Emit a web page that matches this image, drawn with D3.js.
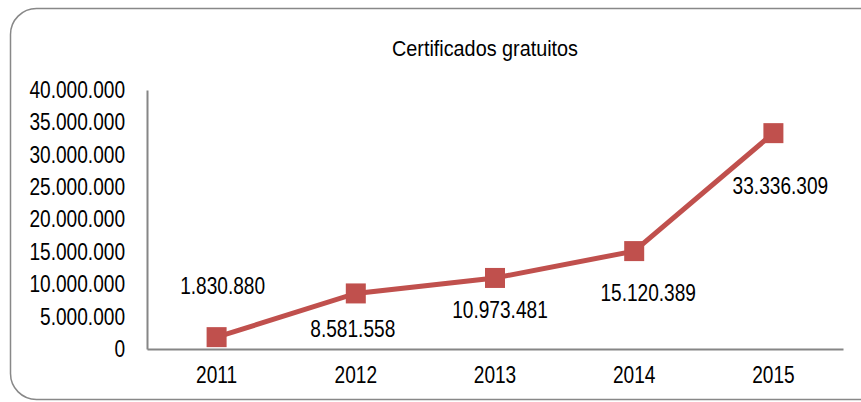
<!DOCTYPE html>
<html>
<head>
<meta charset="utf-8">
<script src="https://cdn.jsdelivr.net/npm/d3@7"></script>
<style>
  body { margin: 0; background: #fff; }
  svg { display: block; font-family: "Liberation Sans Narrow", "Arial Narrow", "Liberation Sans", sans-serif; }
</style>
</head>
<body>
<div id="chart"></div>
<script>
const years = ["2011", "2012", "2013", "2014", "2015"];
const values = [1830880, 8581558, 10973481, 15120389, 33336309];
const yTicks = [0, 5000000, 10000000, 15000000, 20000000, 25000000, 30000000, 35000000, 40000000];

const width = 861, height = 402;
const margin = {top: 90, right: 18, bottom: 53, left: 147};

const svg = d3.select("#chart").append("svg")
    .attr("width", width)
    .attr("height", height);

// squeeze the regular sans to look like the narrow face of the original
function narrow(sel, k) {
    sel.each(function() {
        const len = this.getComputedTextLength();
        d3.select(this).attr("textLength", len * k).attr("lengthAdjust", "spacingAndGlyphs");
    });
}

// outer frame with rounded corners
svg.append("rect")
    .attr("x", 10.5).attr("y", 8.5)
    .attr("width", 880).attr("height", 391)
    .attr("rx", 26).attr("ry", 26)
    .attr("fill", "none")
    .attr("stroke", "#888")
    .attr("stroke-width", 1.5);

const x = d3.scaleBand()
    .domain(years)
    .range([margin.left, width - margin.right]);

const y = d3.scaleLinear()
    .domain([0, 40000000])
    .range([height - margin.bottom, margin.top]);

const fmt = d3.formatLocale({decimal: ",", thousands: ".", grouping: [3], currency: ["", ""]}).format(",d");

svg.append("text")
    .attr("x", 485).attr("y", 56)
    .attr("text-anchor", "middle")
    .attr("font-size", 22)
    .attr("fill", "#000")
    .text("Certificados gratuitos")
    .call(narrow, 0.9);

// y axis
const yAxis = svg.append("g")
    .attr("transform", `translate(${margin.left},0)`)
    .call(d3.axisLeft(y).tickValues(yTicks).tickFormat(fmt).tickSize(0).tickPadding(22));
yAxis.select(".domain").attr("stroke", "#868686").attr("stroke-width", 2);
yAxis.selectAll("text").attr("font-size", 23).attr("fill", "#000").attr("font-family", null).call(narrow, 0.83);

// x axis
const xAxis = svg.append("g")
    .attr("transform", `translate(0,${height - margin.bottom})`)
    .call(d3.axisBottom(x).tickSize(0).tickPadding(18));
xAxis.select(".domain").attr("stroke", "#868686").attr("stroke-width", 2);
xAxis.selectAll("text").attr("font-size", 23).attr("fill", "#000").attr("font-family", null).call(narrow, 0.83);

const cx = d => x(d) + x.bandwidth() / 2;

const line = d3.line()
    .x((d, i) => cx(years[i]))
    .y(d => y(d));

svg.append("path")
    .datum(values)
    .attr("fill", "none")
    .attr("stroke", "#C0504D")
    .attr("stroke-width", 5)
    .attr("d", line);

const ms = 20;
svg.selectAll(".marker")
    .data(values)
    .enter().append("rect")
    .attr("class", "marker")
    .attr("x", (d, i) => cx(years[i]) - ms / 2)
    .attr("y", d => y(d) - ms / 2)
    .attr("width", ms).attr("height", ms)
    .attr("fill", "#C0504D");

// label placement relative to each marker (dx, baseline dy)
const lblOff = [[6, -43], [-3, 44], [5, 40], [14, 50], [7, 61]];

svg.selectAll(".lbl")
    .data(values)
    .enter().append("text")
    .attr("class", "lbl")
    .attr("font-size", 23)
    .attr("fill", "#000")
    .attr("text-anchor", "middle")
    .attr("x", (d, i) => cx(years[i]) + lblOff[i][0])
    .attr("y", (d, i) => y(d) + lblOff[i][1])
    .text(d => fmt(d))
    .call(narrow, 0.83);
</script>
</body>
</html>
